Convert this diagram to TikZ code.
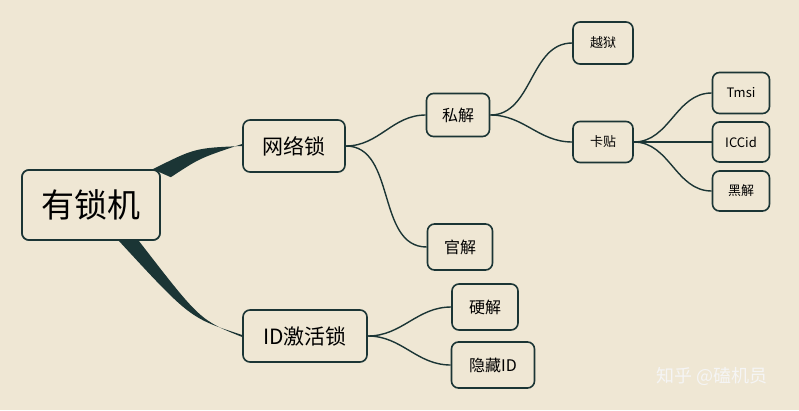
\documentclass[tikz,border=0pt]{standalone}
\usepackage{fontspec}
\newfontfamily\cjk{Noto Sans CJK SC}
\definecolor{bg}{HTML}{EFE7D4}
\definecolor{ln}{HTML}{1B3535}
\begin{document}
\begin{tikzpicture}[x=1pt,y=-1pt,
 box/.style={draw=ln,line width=1.6pt,rounded corners=7pt,fill=bg,font=\cjk,inner sep=0pt,text=black},
 con/.style={draw=ln,line width=1.4pt}]
\fill[bg] (0,0) rectangle (799,410);
\node[box,minimum width=138,minimum height=70,font=\cjk\fontsize{33}{33}\selectfont] (root) at (91,205) {有锁机};
\node[box,minimum width=102,minimum height=52,font=\cjk\fontsize{21}{21}\selectfont] (net) at (294,146) {网络锁};
\node[box,minimum width=124,minimum height=52,font=\cjk\fontsize{21}{21}\selectfont] (id) at (305,336) {ID激活锁};
\node[box,minimum width=63,minimum height=43,font=\cjk\fontsize{16}{16}\selectfont] (si) at (458,115) {私解};
\node[box,minimum width=65,minimum height=46,font=\cjk\fontsize{16}{16}\selectfont] (guan) at (460,247) {官解};
\node[box,minimum width=66,minimum height=46,font=\cjk\fontsize{16}{16}\selectfont] (ying) at (485,307) {硬解};
\node[box,minimum width=83,minimum height=46,font=\cjk\fontsize{16}{16}\selectfont] (yc) at (493,365) {隐藏ID};
\node[box,minimum width=60,minimum height=42,font=\cjk\fontsize{13}{13}\selectfont] (yue) at (603,43) {越狱};
\node[box,minimum width=60,minimum height=41,font=\cjk\fontsize{13}{13}\selectfont] (ka) at (603,142) {卡贴};
\node[box,minimum width=57,minimum height=41,font=\cjk\fontsize{13}{13}\selectfont] (tm) at (741,93) {Tmsi};
\node[box,minimum width=57,minimum height=40,font=\cjk\fontsize{13}{13}\selectfont] (icc) at (741,142) {ICCid};
\node[box,minimum width=57,minimum height=40,font=\cjk\fontsize{13}{13}\selectfont] (hei) at (741,191) {黑解};
\node[font=\cjk\fontsize{18}{18}\selectfont,text=white!92!gray] (wm) at (712,376) {知乎 @磕机员};
% thick tapered root connectors
\fill[ln] ([shift={(-8,0)}]root.north east) .. controls (195,148) .. (net.west) -- ([yshift=2]net.west) .. controls (200,158) .. ([shift={(10,8)}]root.north east) -- cycle;
\fill[ln] ([shift={(-42,0)}]root.south east) .. controls (190,318) .. ([yshift=1]id.west) -- ([yshift=-1]id.west) .. controls (200,320) .. ([shift={(-22,0)}]root.south east) -- cycle;
\draw[con] (net.east) to[out=0,in=180] (si.west);
\draw[con] (net.east) to[out=0,in=180] (guan.west);
\draw[con] (id.east) to[out=0,in=180] (ying.west);
\draw[con] (id.east) to[out=0,in=180] (yc.west);
\draw[con] (si.east) to[out=0,in=180] (yue.west);
\draw[con] (si.east) to[out=0,in=180] (ka.west);
\draw[con] (ka.east) to[out=0,in=180] (tm.west);
\draw[con] (ka.east) to[out=0,in=180] (icc.west);
\draw[con] (ka.east) to[out=0,in=180] (hei.west);
\node[box,minimum width=138,minimum height=70,font=\cjk\fontsize{33}{33}\selectfont] (root2) at (root) {有锁机};
\end{tikzpicture}
\end{document}
